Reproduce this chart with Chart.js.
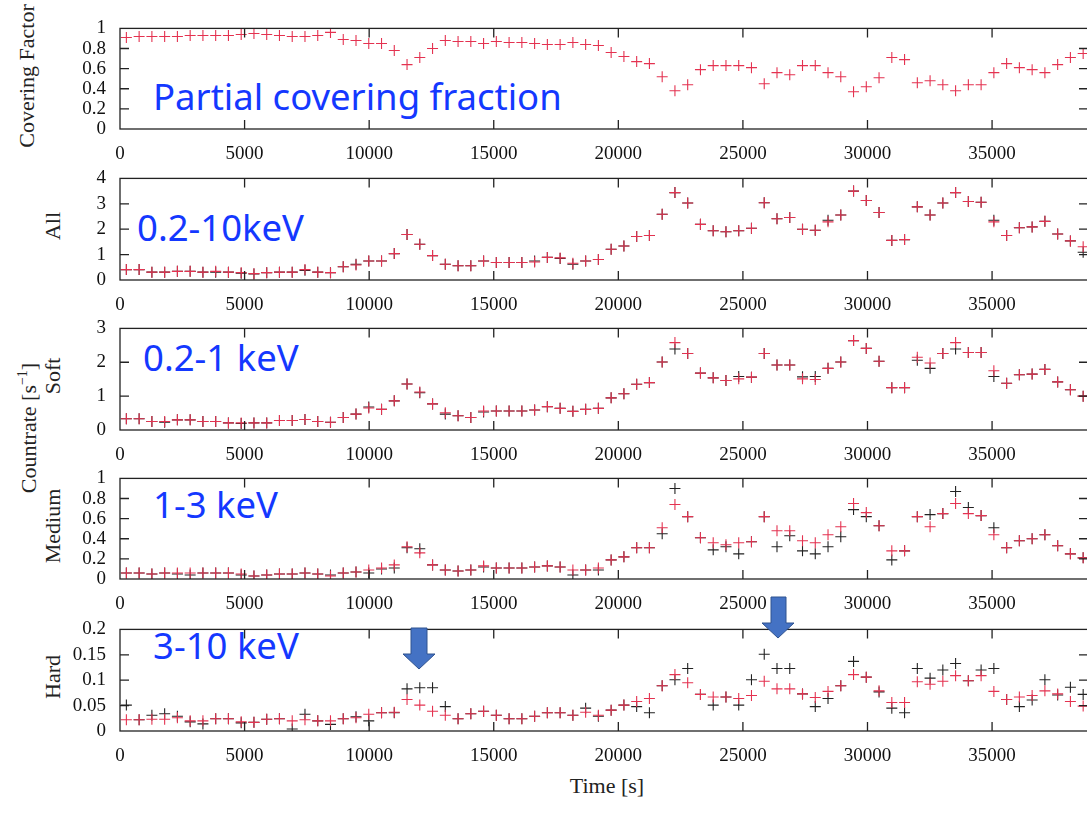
<!DOCTYPE html>
<html>
<head>
<meta charset="utf-8">
<script src="https://cdn.jsdelivr.net/npm/chart.js@4.4.1/dist/chart.umd.min.js"></script>
<style>
  html, body { margin: 0; padding: 0; background: #fff; }
  body { width: 1087px; height: 818px; overflow: hidden; position: relative; }
  canvas { position: absolute; left: 0; }
  .note { position: absolute; font-family: 'Noto Sans', sans-serif; font-size: 36.5px; line-height: 1; color: #1438ff; white-space: nowrap; }
  .ytitle { position: absolute; font-family: 'Liberation Serif', serif; font-size: 22px; color: #222; white-space: nowrap;
            transform: translate(-50%, -50%) rotate(-90deg); line-height: 1; }
  .ytitle sup { font-size: 14px; }
  #xtitle { position: absolute; left: 607px; top: 786px; transform: translate(-50%, -50%);
            font-family: 'Liberation Serif', serif; font-size: 22px; color: #222; }
  svg { position: absolute; left: 0; top: 0; }
</style>
</head>
<body>

<div class="note" style="left:153px; top:78px;">Partial covering fraction</div>
<div class="note" style="left:137px; top:209px;">0.2-10keV</div>
<div class="note" style="left:143px; top:339px;">0.2-1 keV</div>
<div class="note" style="left:153px; top:486px;">1-3 keV</div>
<div class="note" style="left:153px; top:627px;">3-10 keV</div>

<div class="ytitle" style="left:27px; top:76px;">Covering Factor</div>
<div class="ytitle" style="left:53px; top:226px;">All</div>
<div class="ytitle" style="left:53px; top:376px;">Soft</div>
<div class="ytitle" style="left:28px; top:428px;">Countrate [s<sup>−1</sup>]</div>
<div class="ytitle" style="left:53px; top:526px;">Medium</div>
<div class="ytitle" style="left:53px; top:677px;">Hard</div>
<div id="xtitle">Time [s]</div>

<script>
// bin centres (s)
const TIME = [256, 768, 1280, 1792, 2304, 2816, 3328, 3840, 4352, 4864,
  5376, 5888, 6400, 6912, 7424, 7936, 8448, 8960, 9472, 9984,
  10496, 11008, 11520, 12032, 12544, 13056, 13568, 14080, 14592, 15104,
  15616, 16128, 16640, 17152, 17664, 18176, 18688, 19200, 19712, 20224,
  20736, 21248, 21760, 22272, 22784, 23296, 23808, 24320, 24832, 25344,
  25856, 26368, 26880, 27392, 27904, 28416, 28928, 29440, 29952, 30464,
  30976, 31488, 32000, 32512, 33024, 33536, 34048, 34560, 35072, 35584,
  36096, 36608, 37120, 37632, 38144, 38656];

const X_TICKS = [0, 5000, 10000, 15000, 20000, 25000, 30000, 35000];
const COVER_TICKS = [0, 0.2, 0.4, 0.6, 0.8, 1];
const ALL_TICKS = [0, 1, 2, 3, 4];
const SOFT_TICKS = [0, 1, 2, 3];
const MEDIUM_TICKS = [0, 0.2, 0.4, 0.6, 0.8, 1];
const HARD_TICKS = [0, 0.05, 0.1, 0.15, 0.2];

const coverFactor = [0.91, 0.92, 0.92, 0.92, 0.92, 0.93, 0.93, 0.93, 0.93, 0.94,
  0.95, 0.94, 0.93, 0.92, 0.92, 0.93, 0.96, 0.89, 0.88, 0.85,
  0.85, 0.78, 0.64, 0.71, 0.80, 0.88, 0.87, 0.87, 0.85, 0.87,
  0.86, 0.86, 0.85, 0.84, 0.84, 0.86, 0.84, 0.83, 0.76, 0.72,
  0.67, 0.65, 0.52, 0.38, 0.44, 0.59, 0.63, 0.63, 0.63, 0.61,
  0.45, 0.56, 0.54, 0.63, 0.63, 0.56, 0.52, 0.37, 0.42, 0.51,
  0.71, 0.69, 0.46, 0.48, 0.44, 0.38, 0.44, 0.44, 0.56, 0.65,
  0.61, 0.59, 0.56, 0.64, 0.71, 0.75];

// red = model, black = data
const allRed = [0.41, 0.41, 0.31, 0.31, 0.34, 0.34, 0.31, 0.34, 0.31, 0.29,
  0.25, 0.29, 0.31, 0.31, 0.41, 0.31, 0.29, 0.52, 0.59, 0.75,
  0.75, 1.04, 1.79, 1.41, 0.96, 0.62, 0.56, 0.56, 0.75, 0.69,
  0.69, 0.69, 0.71, 0.89, 0.87, 0.66, 0.75, 0.81, 1.21, 1.34,
  1.71, 1.75, 2.59, 3.44, 3.03, 2.19, 1.94, 1.90, 1.94, 2.04,
  3.04, 2.41, 2.46, 2.00, 1.96, 2.29, 2.56, 3.50, 3.13, 2.66,
  1.56, 1.59, 2.88, 2.56, 3.03, 3.44, 3.09, 3.06, 2.29, 1.75,
  2.06, 2.09, 2.31, 1.81, 1.54, 1.31];
const allBlack = [0.41, 0.41, 0.31, 0.31, 0.34, 0.34, 0.31, 0.31, 0.31, 0.27,
  0.24, 0.29, 0.31, 0.31, 0.38, 0.31, 0.29, 0.52, 0.62, 0.75,
  0.75, 1.04, 1.79, 1.41, 0.96, 0.62, 0.56, 0.56, 0.75, 0.69,
  0.69, 0.69, 0.75, 0.89, 0.85, 0.62, 0.75, 0.81, 1.21, 1.34,
  1.71, 1.75, 2.59, 3.44, 3.03, 2.19, 1.94, 1.90, 1.94, 2.04,
  3.04, 2.41, 2.46, 2.00, 1.96, 2.35, 2.56, 3.50, 3.13, 2.66,
  1.56, 1.59, 2.88, 2.56, 3.03, 3.44, 3.09, 3.06, 2.35, 1.75,
  2.06, 2.09, 2.31, 1.81, 1.54, 1.09];

const softRed = [0.33, 0.33, 0.25, 0.25, 0.30, 0.30, 0.25, 0.25, 0.21, 0.21,
  0.21, 0.21, 0.28, 0.28, 0.31, 0.25, 0.23, 0.37, 0.47, 0.65,
  0.61, 0.86, 1.36, 1.12, 0.77, 0.51, 0.42, 0.37, 0.56, 0.56,
  0.56, 0.56, 0.59, 0.69, 0.64, 0.55, 0.61, 0.64, 0.95, 1.07,
  1.35, 1.40, 2.01, 2.58, 2.26, 1.68, 1.54, 1.46, 1.51, 1.56,
  2.26, 1.92, 1.92, 1.51, 1.49, 1.82, 2.01, 2.64, 2.41, 2.03,
  1.25, 1.25, 2.15, 1.98, 2.26, 2.58, 2.29, 2.29, 1.75, 1.38,
  1.63, 1.65, 1.79, 1.42, 1.19, 1.00];
const softBlack = [0.33, 0.33, 0.25, 0.23, 0.30, 0.30, 0.25, 0.25, 0.21, 0.19,
  0.21, 0.21, 0.28, 0.28, 0.31, 0.25, 0.23, 0.37, 0.47, 0.68,
  0.61, 0.86, 1.36, 1.10, 0.77, 0.47, 0.42, 0.37, 0.53, 0.56,
  0.56, 0.56, 0.59, 0.69, 0.64, 0.55, 0.61, 0.64, 0.95, 1.07,
  1.35, 1.40, 2.01, 2.39, 2.26, 1.68, 1.54, 1.46, 1.58, 1.56,
  2.26, 1.92, 1.92, 1.57, 1.58, 1.82, 2.01, 2.64, 2.41, 2.03,
  1.25, 1.25, 2.06, 1.82, 2.26, 2.39, 2.29, 2.29, 1.58, 1.38,
  1.63, 1.65, 1.79, 1.42, 1.19, 1.00];

const mediumRed = [0.06, 0.06, 0.05, 0.06, 0.06, 0.06, 0.06, 0.06, 0.06, 0.05,
  0.03, 0.04, 0.05, 0.05, 0.06, 0.05, 0.03, 0.06, 0.07, 0.09,
  0.11, 0.14, 0.32, 0.26, 0.14, 0.09, 0.08, 0.09, 0.13, 0.11,
  0.11, 0.11, 0.12, 0.13, 0.12, 0.09, 0.09, 0.11, 0.19, 0.22,
  0.31, 0.31, 0.51, 0.74, 0.62, 0.41, 0.36, 0.34, 0.36, 0.37,
  0.62, 0.48, 0.48, 0.38, 0.36, 0.44, 0.52, 0.75, 0.66, 0.53,
  0.28, 0.28, 0.62, 0.52, 0.65, 0.75, 0.65, 0.63, 0.44, 0.31,
  0.38, 0.40, 0.44, 0.33, 0.25, 0.21];
const mediumBlack = [0.06, 0.06, 0.05, 0.06, 0.05, 0.04, 0.06, 0.06, 0.06, 0.04,
  0.03, 0.04, 0.05, 0.05, 0.06, 0.05, 0.04, 0.06, 0.07, 0.06,
  0.10, 0.11, 0.31, 0.30, 0.14, 0.09, 0.08, 0.09, 0.12, 0.11,
  0.11, 0.11, 0.12, 0.13, 0.12, 0.04, 0.09, 0.09, 0.19, 0.22,
  0.31, 0.31, 0.45, 0.90, 0.62, 0.41, 0.29, 0.32, 0.25, 0.37,
  0.62, 0.32, 0.43, 0.28, 0.25, 0.32, 0.42, 0.69, 0.62, 0.53,
  0.19, 0.28, 0.62, 0.64, 0.65, 0.87, 0.71, 0.63, 0.51, 0.31,
  0.38, 0.40, 0.44, 0.33, 0.25, 0.21];

const hardRed = [0.022, 0.022, 0.023, 0.023, 0.026, 0.020, 0.020, 0.024, 0.024, 0.018,
  0.017, 0.023, 0.024, 0.020, 0.022, 0.020, 0.020, 0.024, 0.026, 0.033,
  0.036, 0.037, 0.062, 0.051, 0.039, 0.031, 0.024, 0.034, 0.039, 0.031,
  0.024, 0.024, 0.029, 0.036, 0.036, 0.031, 0.037, 0.031, 0.041, 0.051,
  0.058, 0.064, 0.089, 0.111, 0.095, 0.072, 0.067, 0.067, 0.064, 0.070,
  0.098, 0.083, 0.083, 0.073, 0.066, 0.078, 0.089, 0.111, 0.106, 0.079,
  0.056, 0.056, 0.097, 0.092, 0.098, 0.109, 0.099, 0.109, 0.078, 0.062,
  0.067, 0.070, 0.079, 0.073, 0.058, 0.049];
const hardBlack = [0.051, 0.022, 0.031, 0.034, 0.029, 0.018, 0.014, 0.024, 0.024, 0.016,
  0.017, 0.023, 0.024, 0.004, 0.033, 0.020, 0.013, 0.024, 0.028, 0.020,
  0.036, 0.036, 0.083, 0.085, 0.085, 0.048, 0.024, 0.034, 0.039, 0.031,
  0.024, 0.024, 0.029, 0.036, 0.036, 0.031, 0.045, 0.029, 0.041, 0.051,
  0.048, 0.036, 0.089, 0.101, 0.123, 0.072, 0.051, 0.067, 0.051, 0.101,
  0.151, 0.123, 0.123, 0.073, 0.048, 0.064, 0.089, 0.137, 0.106, 0.077,
  0.045, 0.036, 0.123, 0.104, 0.120, 0.133, 0.099, 0.120, 0.123, 0.062,
  0.048, 0.061, 0.101, 0.071, 0.086, 0.072];

const RED = 'rgb(228, 50, 80)';
const BLACK = '#222';
const TICK_LEN = 9;
const PAD_TOP = 12;
const AXIS_H = 40;
const SERIF = "'Liberation Serif', 'Times New Roman', serif";

// border box plus inward ticks on all four sides, gnuplot style
const framePlugin = {
  id: 'frame',
  afterDatasetsDraw(chart) {
    const { ctx, chartArea: a, scales: { x, y } } = chart;
    ctx.save();
    ctx.strokeStyle = '#222';
    ctx.lineWidth = 1.3;
    ctx.strokeRect(a.left, a.top, a.right - a.left, a.bottom - a.top);
    ctx.beginPath();
    x.ticks.forEach(t => {
      const px = x.getPixelForValue(t.value);
      if (px <= a.left + 1) return;
      ctx.moveTo(px, a.bottom); ctx.lineTo(px, a.bottom - TICK_LEN);
      ctx.moveTo(px, a.top); ctx.lineTo(px, a.top + TICK_LEN);
    });
    y.ticks.forEach(t => {
      const py = y.getPixelForValue(t.value);
      if (py >= a.bottom - 1 || py <= a.top + 1) return;
      ctx.moveTo(a.left, py); ctx.lineTo(a.left + TICK_LEN, py);
      ctx.moveTo(a.right, py); ctx.lineTo(a.right - TICK_LEN, py);
    });
    ctx.stroke();
    ctx.restore();
  }
};

function points(arr) {
  return TIME.map((t, i) => ({ x: t, y: arr[i] }));
}

function crossSet(arr, color) {
  return {
    data: points(arr),
    pointStyle: 'cross',
    pointRadius: 5.5,
    pointBorderWidth: 1.1,
    borderColor: color,
    backgroundColor: color,
    showLine: false
  };
}

function makePanel(top, plotH, yTicks, series) {
  const canvas = document.createElement('canvas');
  const h = PAD_TOP + plotH + AXIS_H;
  canvas.width = 1100;
  canvas.height = h;
  canvas.style.top = (top - PAD_TOP) + 'px';
  canvas.style.width = '1100px';
  canvas.style.height = h + 'px';
  document.body.appendChild(canvas);

  const tickFont = { family: SERIF, size: 19 };
  const datasets = [];
  if (series.red) datasets.push(crossSet(series.red, RED));
  if (series.black) datasets.push(crossSet(series.black, BLACK));

  new Chart(canvas.getContext('2d'), {
    type: 'scatter',
    data: { datasets },
    options: {
      responsive: false,
      animation: false,
      events: [],
      layout: { padding: { top: PAD_TOP, right: 12, bottom: 0, left: 0 } },
      plugins: { legend: { display: false }, tooltip: { enabled: false } },
      scales: {
        x: {
          type: 'linear', min: 0, max: 38850,
          grid: { display: false }, border: { display: false },
          ticks: { font: tickFont, color: '#111', padding: 6, maxRotation: 0, autoSkip: false,
                   callback: v => String(v) },
          afterBuildTicks: s => { s.ticks = X_TICKS.map(v => ({ value: v })); },
          afterFit: s => { s.height = AXIS_H; }
        },
        y: {
          type: 'linear', min: yTicks[0], max: yTicks[yTicks.length - 1],
          grid: { display: false }, border: { display: false },
          ticks: { font: tickFont, color: '#111', padding: 6, autoSkip: false,
                   callback: v => String(v) },
          afterBuildTicks: s => { s.ticks = yTicks.map(v => ({ value: v })); },
          afterFit: s => { s.width = 120; }
        }
      }
    },
    plugins: [framePlugin]
  });
}

function build() {
  makePanel(23, 106, COVER_TICKS, { red: coverFactor });
  makePanel(173, 107, ALL_TICKS, { red: allRed, black: allBlack });
  makePanel(323, 107, SOFT_TICKS, { red: softRed, black: softBlack });
  makePanel(473, 106, MEDIUM_TICKS, { red: mediumRed, black: mediumBlack });
  makePanel(624, 107, HARD_TICKS, { red: hardRed, black: hardBlack });
}

document.fonts.load('19px "Liberation Serif"').then(build, build);
</script>

<svg width="1087" height="818">
  <polygon points="411,628 427,628 427,654 435,654 419,669 403,654 411,654" fill="#4472c4" stroke="#2f528f" stroke-width="1"/>
  <polygon points="771,597 786,597 786,623 794,623 778,638 762,623 771,623" fill="#4472c4" stroke="#2f528f" stroke-width="1"/>
</svg>
</body>
</html>
